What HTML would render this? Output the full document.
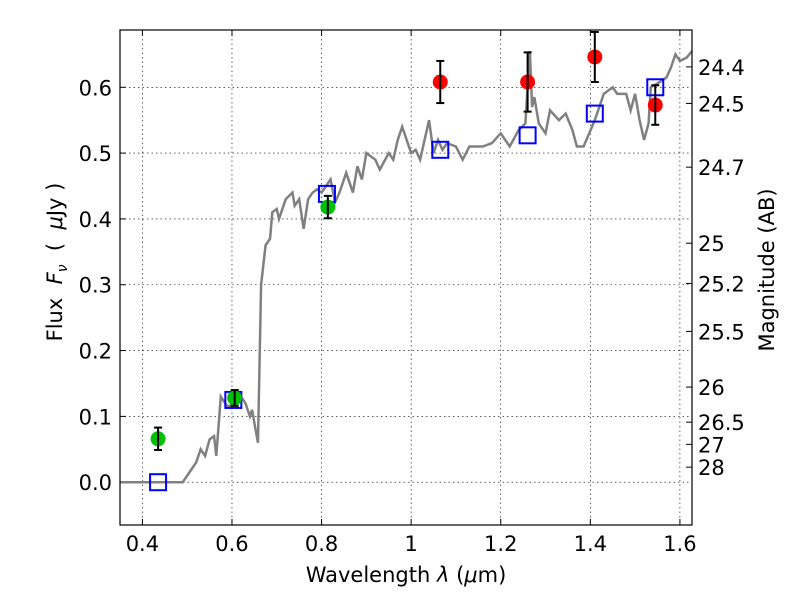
<!DOCTYPE html>
<html><head><meta charset="utf-8"><style>
body{margin:0;background:#fff}
svg{display:block;font-family:"DejaVu Sans","Liberation Sans",sans-serif}
</style></head><body>
<svg id="chart" width="800" height="600"></svg>
<script>
const specLam=[0.35,0.49,0.5,0.52,0.53,0.54,0.55,0.56,0.565,0.575,0.59,0.61,0.62,0.63,0.64,0.645,0.65,0.658,0.665,0.675,0.685,0.69,0.7,0.705,0.72,0.735,0.74,0.75,0.76,0.77,0.78,0.79,0.8,0.81,0.82,0.83,0.84,0.855,0.86,0.87,0.88,0.89,0.9,0.92,0.93,0.95,0.96,0.97,0.98,0.99,1.0,1.01,1.02,1.03,1.04,1.05,1.06,1.07,1.08,1.1,1.115,1.13,1.16,1.18,1.2,1.22,1.24,1.255,1.265,1.27,1.275,1.285,1.3,1.31,1.33,1.345,1.36,1.37,1.385,1.41,1.415,1.43,1.45,1.46,1.48,1.49,1.5,1.51,1.52,1.53,1.535,1.56,1.57,1.58,1.59,1.6,1.615,1.627];
const specFlux=[0,0,0.01,0.03,0.05,0.04,0.065,0.07,0.04,0.13,0.115,0.12,0.13,0.12,0.1,0.11,0.09,0.06,0.3,0.36,0.37,0.41,0.415,0.40,0.43,0.44,0.42,0.43,0.385,0.43,0.44,0.445,0.44,0.45,0.46,0.425,0.44,0.47,0.46,0.44,0.48,0.46,0.50,0.49,0.475,0.50,0.49,0.52,0.54,0.52,0.50,0.505,0.49,0.52,0.55,0.50,0.52,0.505,0.515,0.51,0.49,0.51,0.51,0.515,0.53,0.51,0.535,0.545,0.655,0.57,0.585,0.545,0.53,0.565,0.55,0.56,0.535,0.51,0.51,0.55,0.56,0.59,0.60,0.59,0.59,0.565,0.59,0.55,0.52,0.545,0.60,0.61,0.615,0.63,0.65,0.64,0.645,0.655];
const greenLam=[0.435,0.606,0.814];
const greenFlux=[0.066,0.128,0.418];
const greenErr=[0.017,0.012,0.017];
const redLam=[1.065,1.26,1.41,1.545];
const redFlux=[0.608,0.608,0.646,0.573];
const redErr=[0.032,0.045,0.038,0.03];
const modelLam=[0.435,0.603,0.812,1.065,1.26,1.41,1.545];
const modelFlux=[0.0,0.125,0.438,0.505,0.527,0.560,0.600];
const xTicks=[0.4,0.6,0.8,1.0,1.2,1.4,1.6];
const xTickLabels=["0.4","0.6","0.8","1","1.2","1.4","1.6"];
const yTicks=[0,0.1,0.2,0.3,0.4,0.5,0.6];
const yTickLabels=["0.0","0.1","0.2","0.3","0.4","0.5","0.6"];
const magTicks=[24.4,24.5,24.7,25,25.2,25.5,26,26.5,27,28];

const L=120,R=692,T=30,B=525,xmin=0.35,xmax=1.627,ymin=-0.065,ymax=0.687;
const X=v=>L+(v-xmin)/(xmax-xmin)*(R-L);
const Y=v=>B-(v-ymin)/(ymax-ymin)*(B-T);
const svg=document.getElementById('chart');
const NS='http://www.w3.org/2000/svg';
function mk(tag,attrs,parent){const e=document.createElementNS(NS,tag);for(const k in attrs)e.setAttribute(k,attrs[k]);(parent||svg).appendChild(e);return e;}
xTicks.forEach((t,i)=>{
 const g=mk('line',{x1:X(t),x2:X(t),y1:T,y2:B,stroke:'#000','stroke-width':0.6,'stroke-dasharray':'1.5,3'});
 
 
 mk('line',{x1:X(t),x2:X(t),y1:B,y2:B-6,stroke:'#000'});
 mk('line',{x1:X(t),x2:X(t),y1:T,y2:T+6,stroke:'#000'});
 const tx=mk('text',{x:X(t),y:B+26,'font-size':21,'text-anchor':'middle'});tx.textContent=xTickLabels[i];
 
 
});
yTicks.forEach((t,i)=>{
 const g=mk('line',{x1:L,x2:R,y1:Y(t),y2:Y(t),stroke:'#000','stroke-width':0.6,'stroke-dasharray':'1.5,3'});
 
 
 mk('line',{x1:L,x2:L+6,y1:Y(t),y2:Y(t),stroke:'#000'});
 const tx=mk('text',{x:L-8,y:Y(t)+8,'font-size':21,'text-anchor':'end'});tx.textContent=yTickLabels[i];
 
 
});
magTicks.forEach(m=>{
 const f=Math.pow(10,(23.9-m)/2.5);const y=Y(f);
 mk('line',{x1:R-6,x2:R,y1:y,y2:y,stroke:'#000'});
 const tx=mk('text',{x:R+6,y:y+8,'font-size':21});tx.textContent=String(m);
 
 
});
const sp=mk('polyline',{points:specLam.map((l,i)=>X(l)+','+Y(specFlux[i])).join(' '),fill:'none',stroke:'#808080','stroke-width':2.5});


modelLam.forEach((l,i)=>{
 const r=mk('rect',{x:X(l)-8,y:Y(modelFlux[i])-8,width:16,height:16,fill:'none',stroke:'#0000ff','stroke-width':2});
 
 
});
function pts(lam,flux,err,color,name){
 lam.forEach((l,i)=>{
  const x=X(l),y1=Y(flux[i]-err[i]),y2=Y(flux[i]+err[i]);
  const c=mk('circle',{cx:x,cy:Y(flux[i]),r:7.5,fill:color});
  
  
  mk('line',{x1:x,x2:x,y1:y1,y2:y2,stroke:'#000','stroke-width':2});
  mk('line',{x1:x-4,x2:x+4,y1:y1,y2:y1,stroke:'#000','stroke-width':2});
  mk('line',{x1:x-4,x2:x+4,y1:y2,y2:y2,stroke:'#000','stroke-width':2});
 });
}
pts(greenLam,greenFlux,greenErr,'#00c000','optical-data-point');
pts(redLam,redFlux,redErr,'#ff0000','nir-data-point');
</script>
<svg width="800" height="600" style="position:absolute;left:0;top:0" font-family="DejaVu Sans, Liberation Sans, sans-serif">
<rect x="120" y="30" width="572" height="495" fill="none" stroke="#000" stroke-width="1.2"/>
<text x="406" y="582" font-size="21" text-anchor="middle">Wavelength  <tspan font-style="italic">λ</tspan> (<tspan font-style="italic">μ</tspan>m)</text>
<text transform="translate(62,262) rotate(-90)" font-size="21" text-anchor="middle" xml:space="preserve">Flux  <tspan font-style="italic">F</tspan><tspan font-style="italic" font-size="14" dy="5">ν</tspan><tspan dy="-5">  (  </tspan><tspan font-style="italic">μ</tspan>Jy )</text>
<text transform="translate(774,270) rotate(-90)" font-size="21" text-anchor="middle">Magnitude (AB)</text>
</svg>
</body></html>
